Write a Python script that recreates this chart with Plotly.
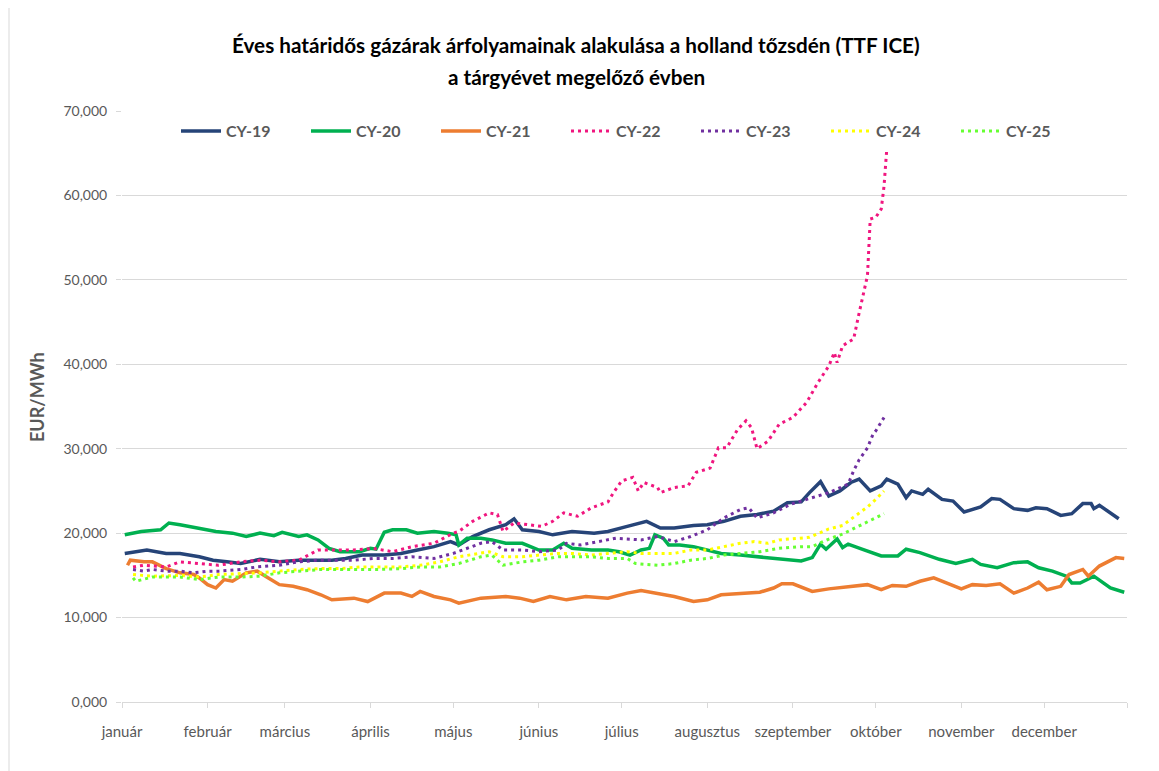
import plotly.graph_objects as go
import pandas as pd

# ---------------- data (day-of-year offset from 1 January, value in EUR/MWh) ----------------
cy19_days = [1, 9, 16, 21, 28, 33, 38, 43, 50, 57, 64, 71, 76, 81, 87, 95, 101, 107, 113, 119,
             122, 127, 133, 139, 142, 145, 151, 156, 163, 171, 176, 183, 190, 195, 200, 207, 212,
             218, 224, 230, 236, 241, 246, 249, 253, 256, 260, 264, 267, 271, 275, 277, 281, 284,
             286, 290, 292, 297, 301, 305, 311, 315, 318, 323, 328, 331, 335, 340, 344, 348, 351,
             352, 354, 361]
cy19_vals = [17.6, 18.0, 17.6, 17.6, 17.2, 16.8, 16.6, 16.4, 16.9, 16.6, 16.8, 16.8, 16.8, 17.0,
             17.4, 17.4, 17.6, 18.0, 18.4, 19.0, 18.6, 19.6, 20.4, 21.0, 21.7, 20.4, 20.2, 19.8,
             20.2, 20.0, 20.2, 20.8, 21.4, 20.6, 20.6, 20.9, 21.0, 21.4, 22.0, 22.2, 22.6, 23.6,
             23.7, 24.8, 26.1, 24.4, 25.0, 26.0, 26.4, 25.0, 25.6, 26.4, 25.8, 24.2, 25.0, 24.6,
             25.2, 24.0, 23.8, 22.5, 23.1, 24.1, 24.0, 22.9, 22.7, 23.0, 22.9, 22.1, 22.3, 23.5,
             23.5, 22.9, 23.3, 21.7]

cy20_days = [1, 7, 14, 17, 21, 28, 34, 40, 45, 50, 55, 58, 64, 67, 71, 75, 79, 86, 90, 92, 95,
             98, 103, 107, 113, 118, 121, 122, 125, 130, 134, 139, 145, 151, 156, 160, 163, 170,
             176, 180, 184, 188, 191, 193, 196, 198, 202, 207, 212, 217, 224, 231, 238, 246, 250,
             253, 255, 259, 261, 263, 268, 275, 281, 284, 289, 296, 302, 308, 311, 317, 323, 328,
             332, 337, 342, 344, 347, 352, 358, 363]
cy20_vals = [19.8, 20.2, 20.4, 21.2, 21.0, 20.6, 20.2, 20.0, 19.6, 20.0, 19.7, 20.1, 19.6, 19.8,
             19.2, 18.2, 17.8, 17.8, 18.2, 18.1, 20.1, 20.4, 20.4, 20.0, 20.2, 20.0, 19.8, 18.6,
             19.4, 19.4, 19.2, 18.8, 18.8, 18.0, 18.0, 18.8, 18.2, 18.0, 18.0, 17.8, 17.4, 18.0,
             18.2, 19.8, 19.4, 18.6, 18.6, 18.4, 18.0, 17.6, 17.4, 17.2, 17.0, 16.7, 17.1, 18.7,
             18.1, 19.3, 18.3, 18.7, 18.1, 17.3, 17.3, 18.1, 17.7, 16.9, 16.4, 16.9, 16.3, 15.9,
             16.5, 16.6, 15.9, 15.5, 14.9, 14.1, 14.1, 14.9, 13.5, 13.0]

cy21_days = [2, 3, 8, 11, 16, 21, 26, 28, 31, 34, 37, 40, 45, 49, 53, 57, 62, 67, 72, 76, 84, 89,
             95, 101, 105, 108, 113, 119, 122, 130, 139, 144, 149, 155, 161, 168, 176, 183, 188,
             192, 200, 207, 212, 217, 224, 231, 236, 239, 243, 250, 256, 263, 270, 275, 279, 284,
             289, 294, 299, 304, 308, 313, 318, 323, 328, 332, 335, 340, 343, 348, 350, 354, 360,
             363]
cy21_vals = [16.2, 16.8, 16.6, 16.6, 15.8, 15.3, 15.1, 14.7, 13.9, 13.5, 14.5, 14.3, 15.3, 15.5,
             14.7, 13.9, 13.7, 13.3, 12.7, 12.1, 12.3, 11.9, 12.9, 12.9, 12.5, 13.1, 12.5, 12.1,
             11.7, 12.3, 12.5, 12.3, 11.9, 12.5, 12.1, 12.5, 12.3, 12.9, 13.2, 13.0, 12.5, 11.9,
             12.1, 12.7, 12.9, 13.0, 13.5, 14.0, 14.0, 13.1, 13.4, 13.7, 13.9, 13.3, 13.8, 13.7,
             14.3, 14.7, 14.1, 13.4, 13.9, 13.8, 14.0, 12.9, 13.5, 14.2, 13.3, 13.7, 15.1, 15.7,
             14.9, 16.1, 17.1, 17.0]

cy22_days = [4, 8, 16, 21, 28, 35, 43, 50, 57, 64, 71, 76, 84, 91, 98, 105, 113, 120, 122, 127,
             133, 136, 138, 142, 147, 152, 156, 160, 165, 170, 176, 178, 181, 185, 187, 189, 194,
             195, 200, 205, 208, 213, 216, 219, 223, 226, 228, 230, 234, 238, 243, 248, 252, 256,
             258, 259, 261, 265, 267, 270, 271, 273, 275, 276, 277]
cy22_vals = [16.0, 16.2, 16.0, 16.6, 16.4, 16.2, 16.6, 16.8, 16.6, 16.8, 18.0, 18.0, 18.0, 18.2,
             17.8, 18.4, 18.8, 20.0, 20.2, 21.4, 22.4, 22.2, 20.2, 21.2, 21.0, 20.8, 21.4, 22.4,
             22.0, 23.0, 23.7, 24.8, 26.2, 26.6, 25.0, 26.0, 25.4, 24.8, 25.4, 25.6, 27.2, 27.7,
             30.1, 30.1, 32.3, 33.3, 32.5, 30.0, 30.9, 32.9, 33.7, 35.5, 37.8, 39.8, 41.4, 40.2,
             42.2, 43.0, 46.1, 50.5, 57.2, 57.4, 58.4, 61.1, 65.5]

cy23_days = [4, 8, 11, 16, 21, 26, 31, 35, 43, 49, 57, 64, 71, 76, 84, 91, 98, 105, 113, 120,
             130, 134, 138, 145, 151, 158, 161, 166, 172, 179, 188, 194, 200, 206, 212, 218, 224,
             227, 230, 236, 242, 248, 256, 263, 265, 267, 270, 272, 273, 276]
cy23_vals = [15.7, 15.5, 15.7, 15.5, 15.5, 15.3, 15.5, 15.5, 15.7, 16.0, 16.2, 16.6, 16.8, 16.8,
             16.8, 17.0, 17.0, 17.2, 17.0, 17.6, 18.8, 19.0, 18.0, 18.0, 17.8, 18.0, 18.8, 18.6,
             19.0, 19.4, 19.2, 19.6, 19.0, 19.6, 20.4, 21.8, 22.8, 23.0, 21.8, 22.4, 23.4, 24.0,
             24.8, 25.8, 27.4, 28.7, 30.1, 31.7, 32.1, 33.7]

cy24_days = [4, 11, 21, 28, 35, 43, 50, 57, 64, 72, 79, 86, 93, 101, 108, 115, 122, 130, 133,
             138, 145, 151, 158, 163, 170, 176, 183, 188, 194, 200, 206, 212, 218, 224, 229, 234,
             238, 246, 249, 256, 261, 265, 270, 273, 276]
cy24_vals = [15.1, 14.9, 15.0, 14.8, 15.1, 15.2, 15.3, 15.5, 15.7, 15.8, 15.8, 16.0, 16.0, 16.0,
             16.2, 16.6, 17.2, 17.6, 17.8, 17.2, 17.2, 17.4, 17.6, 17.6, 17.4, 17.6, 17.8, 17.6,
             17.6, 17.6, 18.0, 18.0, 18.4, 18.8, 19.0, 18.8, 19.2, 19.4, 19.5, 20.5, 20.9, 21.9,
             23.1, 24.0, 25.0]

cy25_days = [4, 5, 11, 21, 28, 35, 43, 50, 57, 64, 72, 79, 86, 93, 101, 108, 115, 122, 130, 134,
             138, 145, 151, 158, 163, 170, 176, 183, 186, 194, 200, 206, 212, 218, 224, 231, 238,
             246, 250, 256, 261, 266, 271, 276]
cy25_vals = [14.7, 14.3, 14.8, 14.8, 14.5, 14.8, 14.8, 14.9, 15.3, 15.5, 15.7, 15.7, 15.7, 15.7,
             15.8, 16.0, 16.0, 16.4, 17.2, 17.4, 16.2, 16.6, 16.8, 17.2, 17.2, 17.2, 17.0, 17.0,
             16.4, 16.2, 16.4, 16.8, 17.0, 17.4, 17.6, 17.8, 18.2, 18.4, 18.4, 19.3, 19.9, 20.7,
             21.5, 22.3]

month_names = ["január", "február", "március", "április", "május", "június", "július",
               "augusztus", "szeptember", "október", "november", "december"]
y_ticks = [0, 10, 20, 30, 40, 50, 60, 70]
y_ticktext = ["0,000", "10,000", "20,000", "30,000", "40,000", "50,000", "60,000", "70,000"]

series = [
    ("CY-19", cy19_days, cy19_vals, "#264478", "solid", 3.5),
    ("CY-20", cy20_days, cy20_vals, "#00B050", "solid", 3.5),
    ("CY-21", cy21_days, cy21_vals, "#ED7D31", "solid", 3.5),
    ("CY-22", cy22_days, cy22_vals, "#F0167F", "3px,4px", 3),
    ("CY-23", cy23_days, cy23_vals, "#7030A0", "3px,4px", 3),
    ("CY-24", cy24_days, cy24_vals, "#FFFF00", "3px,4px", 3),
    ("CY-25", cy25_days, cy25_vals, "#66FF33", "3px,4px", 3),
]

base = pd.Timestamp("2021-01-01")


def to_dates(days):
    return [base + pd.Timedelta(days=d) for d in days]


FONT = "Lato, Open Sans, sans-serif"
GRAY = "#595959"

# page body has an 8px margin: figure is shrunk so the plot lands on the reference pixels
W, H = 1151, 763
PL, PT, PR, PB = 114, 103, 32, 69   # plot spans x 122..1127, y 111..702 in the window
PW, PH = W - PL - PR, H - PT - PB


def px_x(x):
    return (x - 8 - PL) / PW


def px_y(y):
    return 1 - (y - 8 - PT) / PH


fig = go.Figure()
for name, days, vals, color, dash, width in series:
    fig.add_trace(go.Scatter(
        x=to_dates(days), y=vals, name="<b>" + name + "</b>", mode="lines",
        line=dict(color=color, width=width, dash=dash),
    ))

month_ticks = [pd.Timestamp(2021, m, 1) for m in range(1, 13)]

fig.update_layout(
    width=W, height=H,
    paper_bgcolor="white", plot_bgcolor="white",
    margin=dict(l=PL, r=PR, t=PT, b=PB, autoexpand=False),
    font=dict(family=FONT, color=GRAY, size=15),
    showlegend=True,
    legend=dict(
        orientation="h", x=px_x(176), y=px_y(114), xanchor="left", yanchor="top",
        entrywidth=75, entrywidthmode="pixels",
        font=dict(family=FONT, size=16, color=GRAY),
        bgcolor="rgba(0,0,0,0)", itemwidth=40,
    ),
    xaxis=dict(
        type="date",
        range=[pd.Timestamp("2021-01-01"), pd.Timestamp("2021-12-31")],
        tickvals=month_ticks + [pd.Timestamp("2021-12-31")],
        ticktext=month_names + [""],
        showgrid=False, zeroline=False,
        showline=True, linecolor="#D9D9D9", linewidth=1,
        ticks="outside", ticklen=5, tickcolor="#D9D9D9",
        ticklabelstandoff=11,
        tickfont=dict(family=FONT, size=15, color=GRAY),
    ),
    yaxis=dict(
        range=[0, 70], tickvals=y_ticks, ticktext=y_ticktext,
        showgrid=True, gridcolor="#D9D9D9", gridwidth=1,
        zeroline=False, showline=False,
        ticks="outside", ticklen=5, tickcolor="#D9D9D9",
        ticklabelstandoff=6,
        tickfont=dict(family=FONT, size=14, color=GRAY),
    ),
    shapes=[
        dict(type="line", xref="paper", yref="paper",
             x0=px_x(9), x1=px_x(9), y0=px_y(0), y1=px_y(771),
             line=dict(color="#D9D9D9", width=1)),
    ],
    annotations=[
        dict(text="<b>Éves határidős gázárak árfolyamainak alakulása a holland tőzsdén (TTF ICE)</b>",
             xref="paper", yref="paper", x=px_x(576), y=px_y(45),
             xanchor="center", yanchor="middle", showarrow=False,
             font=dict(family=FONT, size=20.7, color="#000000")),
        dict(text="<b>a tárgyévet megelőző évben</b>",
             xref="paper", yref="paper", x=px_x(576), y=px_y(77),
             xanchor="center", yanchor="middle", showarrow=False,
             font=dict(family=FONT, size=20.7, color="#000000")),
        dict(text="<b>EUR/MWh</b>", textangle=-90,
             xref="paper", yref="paper", x=px_x(37), y=px_y(397),
             xanchor="center", yanchor="middle", showarrow=False,
             font=dict(family=FONT, size=18, color=GRAY)),
    ],
)

fig.write_html("out.html")
